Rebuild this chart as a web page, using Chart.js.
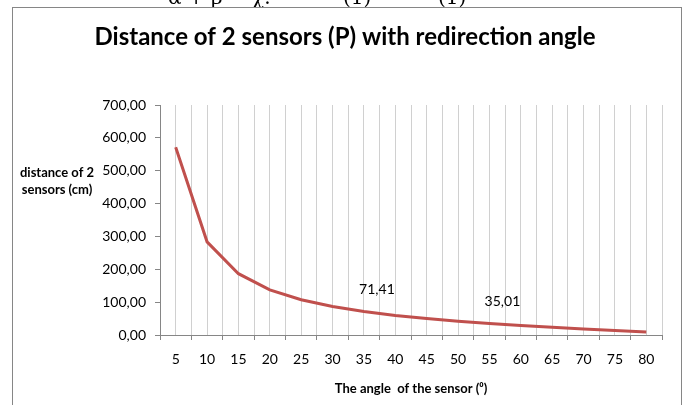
<!DOCTYPE html>
<html>
<head>
<meta charset="utf-8">
<title>Distance of 2 sensors (P) with redirection angle</title>
<script src="https://cdn.jsdelivr.net/npm/chart.js@4.4.1/dist/chart.umd.min.js"></script>
<style>
    html, body { margin: 0; padding: 0; background: #ffffff; }
    #wrap { width: 686px; height: 405px; position: relative; }
</style>
</head>
<body>
<div id="wrap"><canvas id="distanceChart"></canvas></div>
<script>
// Data
const angles = ['5', '10', '15', '20', '25', '30', '35', '40', '45', '50', '55', '60', '65', '70', '75', '80'];
const distances = [571.50, 283.56, 186.60, 137.37, 107.23, 86.60, 71.41, 59.59, 50.00, 41.95, 35.01, 28.87, 23.32, 18.20, 13.40, 8.82];
const labelledAngles = ['35', '55'];
const yMin = 0;
const yMax = 700;
const yStep = 100;

const chartTitle = 'Distance of 2 sensors (P) with redirection angle';
const yTitleLines = ['distance of 2', 'sensors (cm)'];
const xTitle = 'The angle  of the sensor (\u2070)';
const topLine = ['\u03B1 + \u03B2 = \u03C7.', '(1)', '(1)'];

document.addEventListener('DOMContentLoaded', function() {
    const fontFamily = 'Lato, "Open Sans", sans-serif';
    const axisGray = '#868686';
    const gridGray = '#D0D0D0';

    // format like 700,00
    const formatComma = (value) => value.toFixed(2).replace('.', ',');

    // --- frame, title, y title and the cut off line above the chart ---
    const decorations = {
        id: 'decorations',
        beforeDraw(chart) {
            const ctx = chart.ctx;
            ctx.save();
            ctx.fillStyle = '#ffffff';
            ctx.fillRect(0, 0, chart.width, chart.height);

            // text of the page above the chart, only the bottom shows
            ctx.fillStyle = '#000000';
            ctx.font = '20px "DejaVu Serif", "Liberation Serif", serif';
            ctx.textBaseline = 'alphabetic';
            ctx.textAlign = 'left';
            ctx.fillText(topLine[0], 168, 4);
            ctx.fillText(topLine[1], 343, 4);
            ctx.fillText(topLine[2], 438, 4);

            ctx.fillStyle = '#ffffff';
            ctx.fillRect(12, 8, 669, chart.height);
            ctx.strokeStyle = axisGray;
            ctx.lineWidth = 1;
            ctx.strokeRect(12.5, 7.5, 669, chart.height + 10);

            ctx.fillStyle = '#000000';
            ctx.textAlign = 'center';
            ctx.font = 'bold 24px ' + fontFamily;
            ctx.fillText(chartTitle, 345, 45);

            ctx.font = 'bold 13px ' + fontFamily;
            ctx.textBaseline = 'middle';
            ctx.fillText(yTitleLines[0], 57, 173);
            ctx.fillText(yTitleLines[1], 57, 190);
            ctx.restore();
        }
    };

    // --- value labels on two points ---
    const valueLabels = {
        id: 'valueLabels',
        afterDatasetsDraw(chart) {
            const ctx = chart.ctx;
            const meta = chart.getDatasetMeta(0);
            ctx.save();
            ctx.fillStyle = '#000000';
            ctx.font = '14px ' + fontFamily;
            ctx.textAlign = 'center';
            ctx.textBaseline = 'middle';
            labelledAngles.forEach(angle => {
                const i = angles.indexOf(angle);
                const pt = meta.data[i];
                ctx.fillText(formatComma(distances[i]), pt.x + 13, pt.y - 22);
            });
            ctx.restore();
        }
    };

    const ctx = document.getElementById('distanceChart').getContext('2d');
    const distanceChart = new Chart(ctx, {
        type: 'line',
        data: {
            labels: angles,
            datasets: [{
                label: 'distance',
                data: distances,
                borderColor: '#C0504D',
                backgroundColor: '#C0504D',
                borderWidth: 3,
                pointRadius: 0,
                pointHoverRadius: 0,
                tension: 0,
                xAxisID: 'x',
                yAxisID: 'y'
            }]
        },
        options: {
            responsive: true,
            maintainAspectRatio: false,
            animation: false,
            layout: {
                padding: { left: 0, right: 24, top: 105, bottom: 0 }
            },
            plugins: {
                legend: { display: false },
                title: { display: false },
                tooltip: { enabled: false }
            },
            scales: {
                x: {
                    type: 'category',
                    position: 'bottom',
                    offset: true,
                    grid: {
                        offset: true,
                        color: gridGray,
                        tickColor: axisGray,
                        tickLength: 5
                    },
                    border: { color: axisGray },
                    ticks: {
                        color: '#000000',
                        font: { family: fontFamily, size: 14 },
                        padding: 11,
                        maxRotation: 0,
                        autoSkip: false
                    },
                    title: {
                        display: true,
                        text: xTitle,
                        color: '#000000',
                        font: { family: fontFamily, size: 13, weight: 'bold' },
                        padding: { top: 0, bottom: 8 }
                    },
                    afterFit(scale) { scale.height = 70; }
                },
                xc: {
                    type: 'category',
                    labels: angles,
                    position: 'bottom',
                    offset: true,
                    grid: {
                        offset: false,
                        color: gridGray,
                        drawTicks: false
                    },
                    border: { display: false },
                    ticks: { display: false }
                },
                y: {
                    min: yMin,
                    max: yMax,
                    grid: {
                        drawOnChartArea: false,
                        tickColor: axisGray,
                        tickLength: 5
                    },
                    border: { color: axisGray },
                    ticks: {
                        stepSize: yStep,
                        color: '#000000',
                        font: { family: fontFamily, size: 14 },
                        padding: 9,
                        callback: function(value) {
                            return formatComma(value);
                        }
                    },
                    afterFit(scale) { scale.width = 160; }
                }
            }
        },
        plugins: [decorations, valueLabels]
    });
});
</script>
</body>
</html>
